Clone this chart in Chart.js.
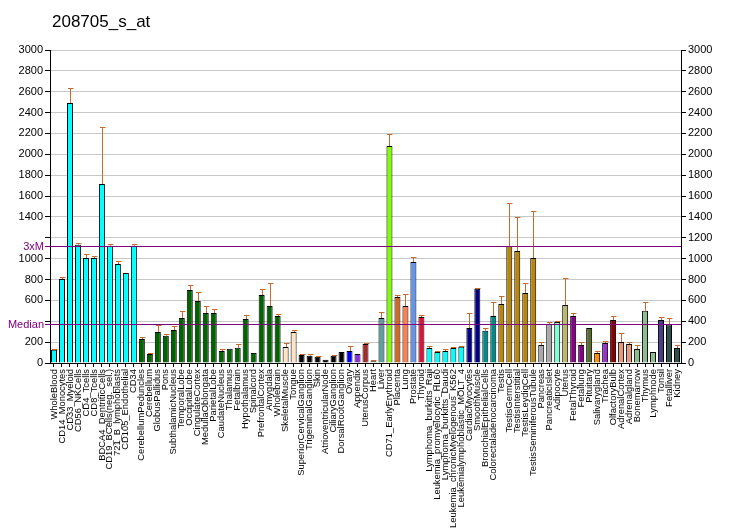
<!DOCTYPE html>
<html>
<head>
<meta charset="utf-8">
<script src="https://cdn.jsdelivr.net/npm/chart.js@4/dist/chart.umd.min.js"></script>
<style>
html,body{margin:0;padding:0;background:#fff;}
#wrap{position:relative;width:732px;height:530px;}
</style>
</head>
<body>
<div id="wrap"><canvas id="c" width="732" height="530"></canvas></div>
<script>
const chartTitle = "208705_s_at";
const categories = ["WholeBlood","CD14_Monocytes","CD33_Myeloid","CD56_NKCells","CD4_Tcells","CD8_Tcells","BDCA4_DentriticCells","CD19_BCells(neg._sel.)","721_B_lymphoblasts","CD105_Endothelial","CD34",
"CerebellumPeduncles","Cerebellum","GlobusPallidus","Pons","SubthalamicNucleus","TemporalLobe","OccipitalLobe","CingulateCortex","MedullaOblongata","ParietalLobe","CaudateNucleus","Thalamus","Fetalbrain","Hypothalamus","Spinalcord","PrefrontalCortex","Amygdala","Wholebrain",
"SkeletalMuscle","Tongue","SuperiorCervicalGanglion","TrigeminalGanglion","Skin","AtrioventricularNode","CiliaryGanglion","DorsalRootGanglion","Ovary","Appendix","UterusCorpus","Heart","Liver","CD71_EarlyErythroid","Placenta","Lung","Prostate","Thyroid",
"Lymphoma_burkitts_Raji","Leukemia_promyelocytic_HL60","Lymphoma_burkitts_Daudi","Leukemia_chronicMyelogenous_K562","Leukemialymphoblastic_MOLT_4",
"CardiacMyocytes","SmoothMuscle","BronchialEpithelialCells","Colorectaladenocarcinoma","Testis","TestisGermCell","TestisInterstitial","TestisLeydigCell","TestisSeminiferousTubule",
"Pancreas","PancreaticIslet","Adipocyte","Uterus","FetalThyroid","Fetallung","Pituitary","Salivarygland","Trachea","OlfactoryBulb","AdrenalCortex","Adrenalgland","Bonemarrow","Thymus","Lymphnode","Tonsil","Fetalliver","Kidney"];
const values = [127,805,2492,1134,1006,1006,1716,1124,949,862,1124,
230,86,297,262,316,431,700,594,479,479,115,137,145,421,96,651,546,450,
153,297,77,70,60,32,70,105,115,86,182,16,431,2080,633,546,968,441,
143,105,115,143,156,
335,712,309,450,565,1121,1073,671,1006,
172,374,393,556,450,172,335,96,191,412,201,182,134,501,105,412,370,143];
const errorHigh = [135,824,2639,1150,1048,1028,2262,1140,977,null,1140,
249,93,367,278,354,501,747,680,546,517,134,null,182,460,null,709,767,469,
191,316,86,86,66,null,77,null,163,null,191,28,489,2195,652,661,1016,460,
160,115,134,153,162,
479,718,338,585,642,1533,1399,767,1457,
198,393,405,815,479,201,null,115,211,450,287,201,172,588,null,441,431,172];
const barColors = [
"#00FFFF","#00FFFF","#00FFFF","#00FFFF","#00FFFF","#00FFFF","#00FFFF","#00FFFF","#00FFFF","#00FFFF","#00FFFF",
"#006400","#006400","#006400","#006400","#006400","#006400","#006400","#006400","#006400","#006400","#006400","#006400","#006400","#006400","#006400","#006400","#006400","#006400",
"#FFE4C4","#FFE4C4","#000000","#000000","#000000","#000000","#000000","#000000","#0000FF","#8A2BE2","#A52A2A","#FFE4C4","#5F9EA0","#7FFF00","#D2691E","#FF7F50","#6495ED","#DC143C",
"#00FFFF","#00FFFF","#00FFFF","#00FFFF","#00FFFF",
"#00008B","#00008B","#008B8B","#008B8B","#B8860B","#B8860B","#B8860B","#B8860B","#B8860B",
"#A9A9A9","#A9A9A9","#7FFFD4","#BDB76B","#8B008B","#8B008B","#556B2F","#FF8C00","#9932CC","#8B0000","#E9967A","#E9967A","#8FBC8F","#8FBC8F","#8FBC8F","#483D8B","#2F4F4F","#2F4F4F"];
const yTicks = [0,200,400,600,800,1000,1200,1400,1600,1800,2000,2200,2400,2600,2800,3000];
const medianValue = 374;
const threeXM = 1122;
const hiddenLeftTicks = [400,1200];

const FONT = "'Liberation Sans', Arial, sans-serif";

const overlayPlugin = {
  id: 'overlay',
  afterDatasetsDraw(chart) {
    const ctx = chart.ctx, ca = chart.chartArea;
    const x = chart.scales.x, y = chart.scales.y;
    ctx.save();
    ctx.strokeStyle = '#C8692D';
    ctx.lineWidth = 1;
    errorHigh.forEach((e, i) => {
      if (e === null || e <= values[i]) return;
      const px = Math.round(x.getPixelForValue(i)) + 0.5;
      const y0 = y.getPixelForValue(values[i]);
      const y1 = Math.round(y.getPixelForValue(e)) + 0.5;
      ctx.beginPath();
      ctx.moveTo(px, y0);
      ctx.lineTo(px, y1);
      ctx.moveTo(px - 2.5, y1);
      ctx.lineTo(px + 3, y1);
      ctx.stroke();
    });
    ctx.strokeStyle = '#800080';
    ctx.fillStyle = '#800080';
    ctx.font = '11px ' + FONT;
    ctx.textAlign = 'right';
    ctx.textBaseline = 'middle';
    [[threeXM, '3xM'], [medianValue, 'Median']].forEach(([v, t]) => {
      const py = Math.round(y.getPixelForValue(v)) + 0.5;
      ctx.beginPath();
      ctx.moveTo(ca.left - 5, py);
      ctx.lineTo(ca.right, py);
      ctx.stroke();
      ctx.fillText(t, ca.left - 6, py);
    });
    ctx.fillStyle = '#000';
    ctx.font = '17px ' + FONT;
    ctx.textAlign = 'left';
    ctx.textBaseline = 'alphabetic';
    ctx.fillText(chartTitle, 52, 27);
    ctx.restore();
  }
};

new Chart(document.getElementById('c'), {
  type: 'bar',
  data: {
    labels: categories,
    datasets: [{
      data: values,
      backgroundColor: barColors,
      borderColor: '#000',
      borderWidth: 1,
      barPercentage: 0.75,
      categoryPercentage: 1.0
    }]
  },
  options: {
    responsive: false,
    animation: false,
    events: [],
    layout: { padding: { top: 50, left: 0, right: 0, bottom: 0 } },
    plugins: { legend: { display: false }, tooltip: { enabled: false }, title: { display: false } },
    scales: {
      x: {
        type: 'category',
        offset: true,
        grid: { display: true, drawOnChartArea: false, drawTicks: true, tickLength: 4, color: '#000', offset: false },
        border: { color: '#000', width: 1 },
        ticks: {
          autoSkip: false, maxRotation: 90, minRotation: 90,
          font: { size: 9.4, family: FONT }, color: '#000', padding: 2
        },
        afterFit(s) { s.height = 167; }
      },
      y: {
        position: 'left',
        min: 0, max: 3000,
        afterBuildTicks(s) { s.ticks = yTicks.map(v => ({ value: v })); },
        grid: {
          color: (c) => (c.tick && c.tick.value === 0) ? '#000' : '#C8C8C8',
          tickColor: '#000', tickLength: 5, drawTicks: true
        },
        border: { color: '#000', width: 1 },
        ticks: {
          font: { size: 11, family: FONT }, color: '#000', padding: 2,
          callback: (v) => hiddenLeftTicks.includes(v) ? '' : String(v)
        },
        afterFit(s) { s.width = 50; }
      },
      y2: {
        position: 'right',
        min: 0, max: 3000,
        afterBuildTicks(s) { s.ticks = yTicks.map(v => ({ value: v })); },
        grid: { drawOnChartArea: false, color: '#000', tickLength: 5 },
        border: { color: '#000', width: 1 },
        ticks: { font: { size: 11, family: FONT }, color: '#000', padding: 2, callback: (v) => String(v) },
        afterFit(s) { s.width = 51; }
      }
    }
  },
  plugins: [overlayPlugin]
});
</script>
</body>
</html>
